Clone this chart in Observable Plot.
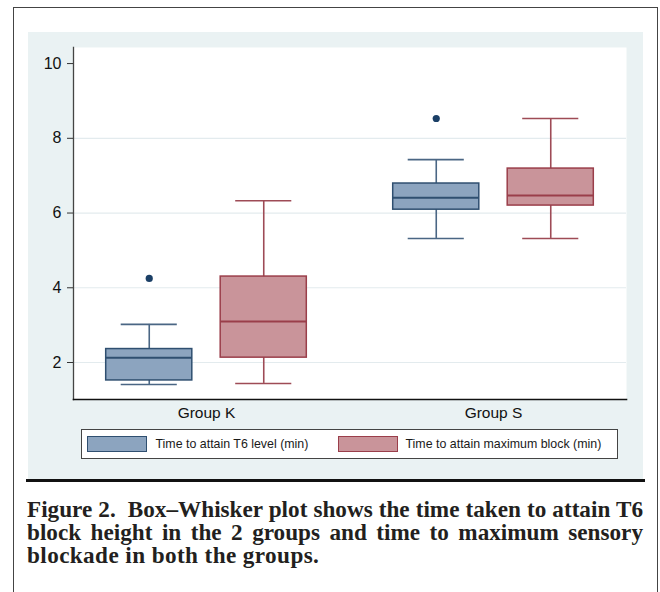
<!DOCTYPE html>
<html><head><meta charset="utf-8">
<script src="https://cdn.jsdelivr.net/npm/d3@7"></script>
<script src="https://cdn.jsdelivr.net/npm/@observablehq/plot@0.6"></script>
<style>
body{margin:0;background:#fff;width:660px;height:592px;overflow:hidden;position:relative;font-family:"Liberation Sans",Arial,sans-serif;}
#border{position:absolute;left:13px;top:7px;width:645px;height:620px;border:1.5px solid #444;box-sizing:border-box;}
#panel{position:absolute;left:28px;top:32px;width:615px;height:447px;background:#eaf2f3;}
#panel svg{position:absolute;left:0;top:0;}
#rule{position:absolute;left:26px;top:479px;width:619px;height:3px;background:#111;}
#legend{position:absolute;left:53px;top:397px;width:537px;height:30px;background:#fff;border:1.5px solid #444;box-sizing:border-box;}
.sw{position:absolute;top:5.5px;width:60px;height:16px;box-sizing:border-box;border:1.5px solid;}
.lt{position:absolute;top:6.5px;font-size:12.4px;line-height:14px;color:#1a1a1a;white-space:nowrap;}
#caption{position:absolute;left:27px;top:498px;width:616px;font-family:"Liberation Serif","Times New Roman",serif;font-weight:bold;font-size:23.2px;line-height:23px;color:#231f20;}
#caption div{text-align:justify;height:23px;}
#caption div.j{text-align-last:justify;}
#caption div.last{letter-spacing:0.4px;}
</style>
</head><body>
<div id="border"></div>
<div id="panel"><div id="legend"></div></div>
<div id="rule"></div>
<div id="caption"></div>
<script>
// ---- data ----
const groups = ["Group K", "Group S"];
const seriesNames = ["Time to attain T6 level (min)", "Time to attain maximum block (min)"];
// Time to attain T6 level (per group)
const t6Low = [1.41, 5.32];
const t6Q1 = [1.52, 6.09];
const t6Median = [2.13, 6.41];
const t6Q3 = [2.36, 6.79];
const t6High = [3.02, 7.43];
const t6Outlier = [4.25, 8.53];
// Time to attain maximum block (per group)
const maxLow = [1.44, 5.32];
const maxQ1 = [2.13, 6.20];
const maxMedian = [3.10, 6.47];
const maxQ3 = [4.30, 7.19];
const maxHigh = [6.33, 8.53];
const yTicks = [2, 4, 6, 8, 10];
const captionLines = [
  "Figure 2.\u00a0 Box\u2013Whisker plot shows the time taken to attain T6",
  "block height in the 2 groups and time to maximum sensory",
  "blockade in both the groups."
];

// ---- table ----
const stats = [
  {low: t6Low, q1: t6Q1, median: t6Median, q3: t6Q3, high: t6High},
  {low: maxLow, q1: maxQ1, median: maxMedian, q3: maxQ3, high: maxHigh}
];
const table = [];
stats.forEach((s, si) => groups.forEach((g, gi) => table.push({
  series: seriesNames[si], si, group: g,
  low: s.low[gi], q1: s.q1[gi], median: s.median[gi], q3: s.q3[gi], high: s.high[gi]
})));
const outliers = groups.map((g, gi) => ({series: seriesNames[0], si: 0, group: g, value: t6Outlier[gi]}));

// ---- styles ----
const styles = [
  {fill: "#8ca4bf", stroke: "#2f4f70", line: "#4a6684", dot: "#1b3f66"},
  {fill: "#c9949a", stroke: "#9a3e4a", line: "#9e4b56", dot: "#90353b"}
];
const dodge = 114.5;

const marks = [
  Plot.frame({fill: "white", stroke: null}),
  Plot.gridY({ticks: yTicks.filter(t => t < 10), stroke: "#e3ebee", strokeOpacity: 1, strokeWidth: 1.2})
];
seriesNames.forEach((s, i) => {
  const rows = table.filter(d => d.si === i);
  const dx = (i - 0.5) * dodge;
  const st = styles[i];
  marks.push(
    Plot.ruleX(rows, {x: "group", y1: "low", y2: "high", stroke: st.line, strokeWidth: 1.6, dx}),
    Plot.tickY(rows, {x: "group", y: "low", stroke: st.line, strokeWidth: 1.6, insetLeft: 15, insetRight: 15, dx}),
    Plot.tickY(rows, {x: "group", y: "high", stroke: st.line, strokeWidth: 1.6, insetLeft: 15, insetRight: 15, dx}),
    Plot.barY(rows, {x: "group", y1: "q1", y2: "q3", fill: st.fill, stroke: st.stroke, strokeWidth: 1.5, dx}),
    Plot.tickY(rows, {x: "group", y: "median", stroke: st.stroke, strokeWidth: 2, dx})
  );
});
seriesNames.forEach((s, i) => {
  const rows = outliers.filter(d => d.si === i);
  if (rows.length) marks.push(Plot.dot(rows, {x: "group", y: "value", r: 3.6, fill: styles[i].dot, stroke: null, dx: (i - 0.5) * dodge}));
});
marks.push(
  Plot.frame({anchor: "left", stroke: "#444", strokeWidth: 1.3}),
  Plot.frame({anchor: "bottom", stroke: "#111", strokeWidth: 1.6}),
  Plot.axisY({ticks: yTicks, tickSize: 6, tickPadding: 6, fontSize: 16, stroke: "#333", label: null}),
  Plot.axisX({tickSize: 0, tickPadding: 7, fontSize: 15.5, label: null})
);

const chart = Plot.plot({
  width: 615, height: 397,
  marginLeft: 45, marginRight: 17, marginTop: 15, marginBottom: 30,
  style: {background: "transparent", fontFamily: "Liberation Sans, Arial, sans-serif", color: "#111", overflow: "visible"},
  x: {domain: groups, paddingInner: 0.7, paddingOuter: 0.3134, round: false, label: null},
  y: {domain: [1.01, 10.43], label: null},
  marks
});
document.getElementById("panel").prepend(chart);

// legend
const legend = document.getElementById("legend");
const swLeft = [4.5, 255.5], txtLeft = [73.5, 323.5];
seriesNames.forEach((s, i) => {
  const sw = document.createElement("div");
  sw.className = "sw";
  sw.style.left = swLeft[i] + "px";
  sw.style.background = styles[i].fill;
  sw.style.borderColor = styles[i].stroke;
  legend.appendChild(sw);
  const t = document.createElement("div");
  t.className = "lt";
  t.style.left = txtLeft[i] + "px";
  t.textContent = s;
  legend.appendChild(t);
});

// caption
const cap = document.getElementById("caption");
captionLines.forEach((l, i) => {
  const d = document.createElement("div");
  d.className = i < captionLines.length - 1 ? "j" : "last";
  d.textContent = l;
  cap.appendChild(d);
});
</script>
</body></html>
